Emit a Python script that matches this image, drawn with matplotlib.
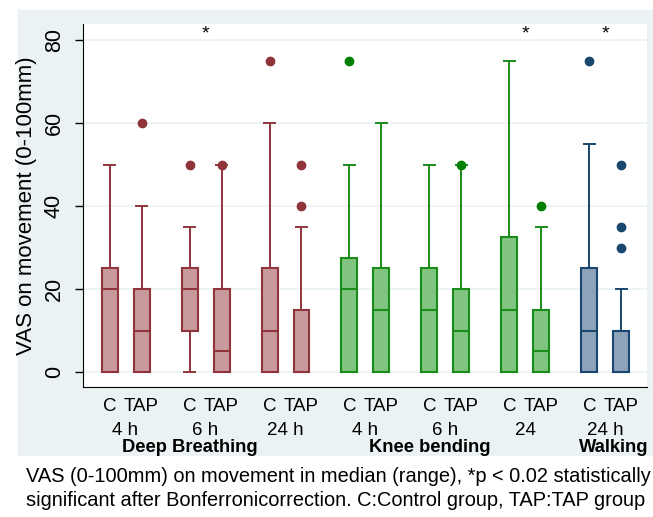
import matplotlib
matplotlib.use('Agg')
import matplotlib.pyplot as plt
from matplotlib.patches import Rectangle

plt.rcParams['font.family'] = ['Liberation Sans', 'DejaVu Sans']

# Box statistics (VAS, 0-100mm)
box_labels = ['C', 'TAP'] * 7
time_labels = ['4 h', '6 h', '24 h', '4 h', '6 h', '24', '24 h']
section_labels = ['Deep Breathing', 'Knee bending', 'Walking']
q1 = [0, 0, 10, 0, 0, 0, 0, 0, 0, 0, 0, 0, 0, 0]
med = [20, 10, 20, 5, 10, 0, 20, 15, 15, 10, 15, 5, 10, 0]
q3 = [25, 20, 25, 20, 25, 15, 27.5, 25, 25, 20, 32.5, 15, 25, 10]
whislo = [0] * 14
whishi = [50, 40, 35, 50, 60, 35, 50, 60, 50, 50, 75, 35, 55, 20]
fliers = [[], [60], [50], [50], [75], [40, 50], [75], [], [], [50], [], [40], [75], [30, 35, 50]]
star_pairs = [1, 5, 6]  # time points with *p < 0.02

# colours per section
edge_cols = ['#90353B', '#1A8C1A', '#1A476F']
fill_cols = ['#C99A9D', '#80C480', '#8CA3B9']
dot_cols = ['#90353B', '#008000', '#1A476F']
section_of_pair = [0, 0, 0, 1, 1, 1, 2]

fig = plt.figure(figsize=(6.53, 5.17), dpi=100)
fig.patches.append(Rectangle((18 / 653, 1 - 455 / 517), 634 / 653, 445 / 517,
                             transform=fig.transFigure, color='#EAF2F3', zorder=-10))
ax = fig.add_axes([83 / 653, 1 - 387 / 517, 564 / 653, 363 / 517])
ax.set_zorder(1)
ax.set_facecolor('white')

positions = []
for p in range(7):
    positions += [2.5 * p, 2.5 * p + 1]

for i in range(14):
    sec = section_of_pair[i // 2]
    stats = [dict(med=med[i], q1=q1[i], q3=q3[i], whislo=whislo[i], whishi=whishi[i], fliers=fliers[i])]
    ax.bxp(stats, positions=[positions[i]], widths=0.5, patch_artist=True, manage_ticks=False,
           boxprops=dict(facecolor=fill_cols[sec], edgecolor=edge_cols[sec], linewidth=1.5),
           medianprops=dict(color=edge_cols[sec], linewidth=1.5),
           whiskerprops=dict(color=edge_cols[sec], linewidth=1.4),
           capprops=dict(color=edge_cols[sec], linewidth=1.4),
           capwidths=0.32,
           flierprops=dict(marker='o', markerfacecolor=dot_cols[sec], markeredgecolor=dot_cols[sec],
                           markersize=6))

for p in star_pairs:
    ax.text(2.5 * p + 0.5, 81.6, '*', ha='center', va='center', fontsize=14)

ax.set_xlim(-0.83, 16.8)
ax.set_ylim(-3.6, 83.9)
ax.set_yticks([0, 20, 40, 60, 80])
ax.set_yticklabels(['0', '20', '40', '60', '80'], rotation=90, va='center', fontsize=15.5)
ax.tick_params(axis='y', length=6, width=1, pad=7)
ax.grid(axis='y', color='#EAF2F3', linewidth=1.2)
ax.set_axisbelow(True)
ax.set_xticks(positions)
ax.set_xticklabels(box_labels, fontsize=13.5)
ax.tick_params(axis='x', length=0, pad=8)
for s in ['top', 'right']:
    ax.spines[s].set_visible(False)
ax.set_ylabel('VAS on movement (0-100mm)', fontsize=16, labelpad=5)

trans = ax.get_xaxis_transform()
for p in range(7):
    ax.text(2.5 * p + 0.5, -0.121, time_labels[p], transform=trans, ha='center', va='center', fontsize=13.5)
sec_x = [2.5, 10.0, 15.75]
for s in range(3):
    ax.text(sec_x[s], -0.166, section_labels[s], transform=trans, ha='center', va='center',
            fontsize=13.2, fontweight='bold')

fig.text(26 / 653, 1 - 477 / 517, 'VAS (0-100mm) on movement in median (range), *p < 0.02 statistically',
         ha='left', va='center', fontsize=14.4)
fig.text(26 / 653, 1 - 500 / 517, 'significant after Bonferronicorrection. C:Control group, TAP:TAP group',
         ha='left', va='center', fontsize=14.4)

fig.savefig('out.png', dpi=100)
